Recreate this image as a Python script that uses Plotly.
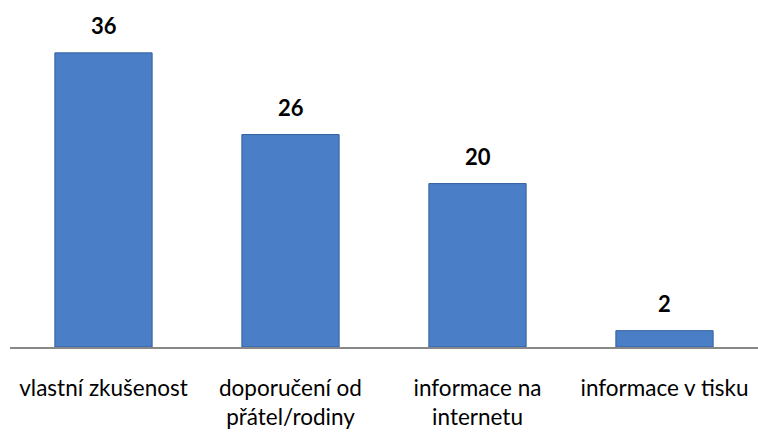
import plotly.graph_objects as go

categories = ["vlastní zkušenost", "doporučení od<br>přátel/rodiny", "informace na<br>internetu", "informace v tisku"]
values = [36, 26, 20, 2]
value_labels = ["36", "26", "20", "2"]

fig = go.Figure()
fig.add_trace(go.Bar(
    x=categories, y=values, width=0.52,
    marker=dict(color="#4A7FC7", line=dict(color="#2F5F9E", width=1)),
    hoverinfo="skip",
))
for c, v, t in zip(categories, values, value_labels):
    fig.add_annotation(x=c, y=v, text="<b>" + t + "</b>", showarrow=False,
                       yanchor="bottom", yshift=12,
                       font=dict(family="Lato, Open Sans, sans-serif", size=22, color="#000000"))

fig.update_layout(
    width=758, height=432,
    margin=dict(l=10, r=0, t=0, b=85, autoexpand=False),
    plot_bgcolor="white", paper_bgcolor="white",
    showlegend=False,
    bargap=0.48,
    xaxis=dict(showline=True, linecolor="#888888", linewidth=2, ticks="",
               tickfont=dict(family="Lato, Open Sans, sans-serif", size=22.5, color="#000000"),
               ticklabelstandoff=20, automargin=False, fixedrange=True),
    yaxis=dict(range=[0, 42.47], showgrid=False, showticklabels=False, zeroline=False,
               showline=False, automargin=False, fixedrange=True),
)
fig.write_html("out.html")
